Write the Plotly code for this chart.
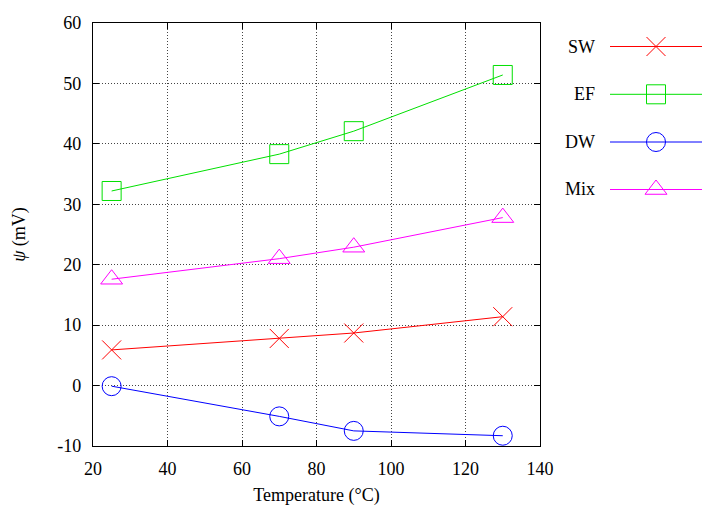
import plotly.graph_objects as go

# ---- data ----
temperature = [25, 70, 90, 130]
sw = [5.9, 7.8, 8.7, 11.4]
ef = [32.2, 38.3, 42.1, 51.4]
dw = [-0.1, -5.1, -7.5, -8.3]
mix = [17.6, 21.0, 22.9, 27.8]

series_names = ["SW", "EF", "DW", "Mix"]
series_values = [sw, ef, dw, mix]
series_colors = ["#ff0000", "#00e000", "#0000ff", "#ff00ff"]
series_symbols = ["x-thin-open", "square-open", "circle-open", "triangle-up-open"]
series_sizes = [19, 19, 19, 19]

x_tickvals = [20, 40, 60, 80, 100, 120, 140]
x_ticktext = ["20", "40", "60", "80", "100", "120", "140"]
y_tickvals = [-10, 0, 10, 20, 30, 40, 50, 60]
y_ticktext = ["-10", "0", "10", "20", "30", "40", "50", "60"]

FONT = "Liberation Serif"
FS = 18
W, H = 702, 506
L, T, B = 93, 23, 60
plot_w = W - L
main_right = (540 - L) / plot_w
leg_left = (600 - L) / plot_w

# legend layout (pixel-like coordinates on an auxiliary axis)
leg_rows = [46.5, 94.3, 142, 189.5]
leg_line_x = [610, 702]
leg_marker_x = 656
leg_text_x = 597

fig = go.Figure()
for name, vals, col, sym, sz in zip(series_names, series_values, series_colors,
                                    series_symbols, series_sizes):
    fig.add_trace(go.Scatter(
        x=temperature, y=vals, mode="lines+markers", name=name,
        line=dict(color=col, width=1),
        marker=dict(symbol=sym, size=sz, color=col, line=dict(color=col, width=1)),
        showlegend=False, xaxis="x", yaxis="y"))

for name, col, sym, sz, ry in zip(series_names, series_colors, series_symbols,
                                  series_sizes, leg_rows):
    fig.add_trace(go.Scatter(
        x=leg_line_x, y=[ry, ry], mode="lines", line=dict(color=col, width=1),
        showlegend=False, xaxis="x2", yaxis="y2", hoverinfo="skip"))
    fig.add_trace(go.Scatter(
        x=[leg_marker_x], y=[ry], mode="markers",
        marker=dict(symbol=sym, size=sz, color=col, line=dict(color=col, width=1)),
        showlegend=False, xaxis="x2", yaxis="y2", hoverinfo="skip"))
    fig.add_annotation(x=(leg_text_x - L) / plot_w, y=(446 - ry) / (446 - T),
                       xref="paper", yref="paper", text=name,
                       showarrow=False, xanchor="right", yanchor="middle",
                       font=dict(family=FONT, size=FS, color="black"))

axis_common = dict(
    showline=True, linecolor="black", linewidth=1.2, mirror="allticks",
    ticks="inside", ticklen=6, tickcolor="black", tickwidth=1,
    showgrid=True, gridcolor="#444444", griddash="1px,2px", gridwidth=1,
    zeroline=False, tickfont=dict(family=FONT, size=FS, color="black"),
    automargin=False,
)

fig.update_layout(
    width=W, height=H,
    margin=dict(l=L, r=0, t=T, b=B, autoexpand=False),
    plot_bgcolor="white", paper_bgcolor="white",
    font=dict(family=FONT, size=FS, color="black"),
    xaxis=dict(domain=[0, main_right], range=[20, 140],
               tickvals=x_tickvals, ticktext=x_ticktext,
               title=dict(text="Temperature (°C)", standoff=14,
                          font=dict(family=FONT, size=FS)),
               ticklabelstandoff=6, **axis_common),
    yaxis=dict(range=[-10, 60], tickvals=y_tickvals, ticktext=y_ticktext,
               title=dict(text="<i>ψ</i> (mV)", standoff=26,
                          font=dict(family=FONT, size=FS)),
               ticklabelstandoff=7, **axis_common),
    xaxis2=dict(domain=[leg_left, 1], range=[600, 702], visible=False,
                anchor="y2", fixedrange=True),
    yaxis2=dict(range=[446, 23], visible=False, anchor="x2", fixedrange=True),
)

fig.write_html("out.html")
